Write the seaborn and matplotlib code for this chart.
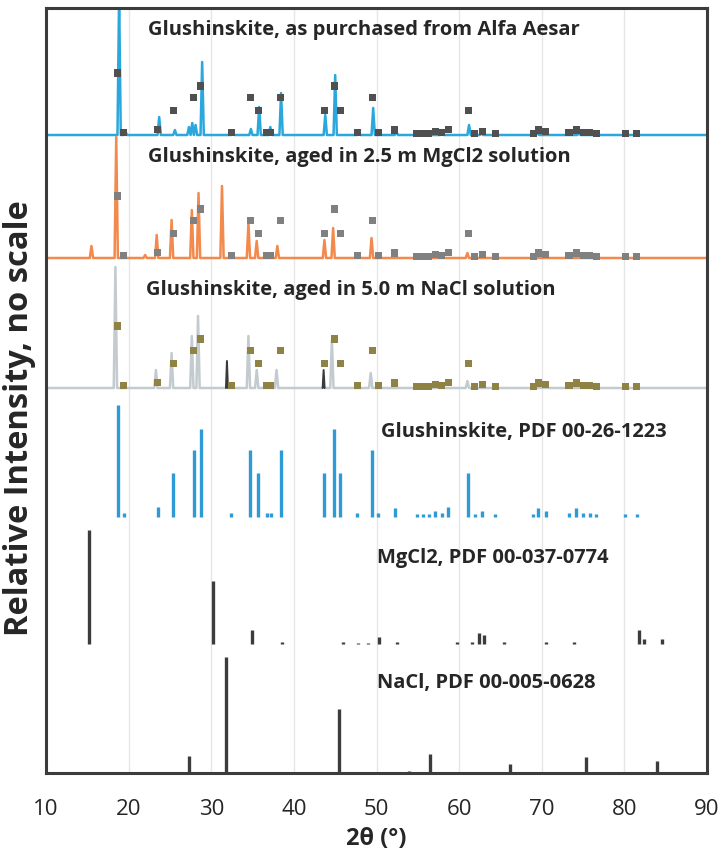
import matplotlib
matplotlib.use("Agg")
import matplotlib.pyplot as plt
import seaborn as sns
import pandas as pd

# --- measured patterns: peak position (2theta, deg) and height (a.u.) ---
purchased_pos = [18.85, 19.6, 23.7, 25.6, 27.3, 27.7, 28.1, 28.9, 32.6, 34.8, 35.8,
                 37.15, 38.45, 43.8, 45.0, 47.9, 49.6, 52.4, 57.9, 61.2, 62.7, 69.5, 74.5]
purchased_int = [140, 4, 18, 5, 8, 12, 10, 73, 3, 6, 28,
                 8, 42, 20, 60, 2, 27, 3, 2, 10, 2, 2, 2]

mgcl2_aged_pos = [15.5, 18.5, 22.0, 23.4, 25.2, 27.65, 28.46, 31.3, 34.5, 35.5,
                  38.0, 43.7, 44.75, 49.4, 61.0]
mgcl2_aged_int = [12, 121, 3, 23, 38, 48, 65, 72, 35, 17,
                  12, 18, 30, 20, 5]

nacl_aged_pos = [18.4, 23.3, 25.2, 27.65, 28.4, 34.5, 35.5, 37.9, 44.6, 49.3, 61.0]
nacl_aged_int = [121, 18, 35, 52, 72, 52, 18, 18, 48, 15, 7]
# darker traces inside the NaCl-aged pattern
nacl_aged_dark_pos = [31.9, 43.6]
nacl_aged_dark_int = [27, 18]

# --- reference patterns (relative intensity, %) ---
glush_pos = [18.7, 19.4, 23.5, 25.4, 27.9, 28.7, 32.4, 34.7, 35.7, 36.7, 37.2, 38.4,
             43.7, 44.9, 45.6, 47.7, 49.5, 50.2, 52.2, 54.9, 55.6, 56.3, 57.1, 57.9,
             58.7, 61.1, 61.9, 62.8, 64.4, 69.0, 69.6, 70.5, 73.3, 74.2, 75.0, 75.8,
             76.6, 80.1, 81.5]
glush_int = [100, 4, 9, 39, 60, 79, 4, 60, 39, 4, 4, 60,
             39, 79, 39, 4, 60, 4, 8, 3, 3, 3, 5, 4,
             9, 39, 3, 5, 3, 3, 8, 5, 4, 8, 4, 4,
             3, 3, 3]

mgcl2_pos = [15.25, 30.2, 34.9, 38.6, 46.0, 47.8, 49.0, 50.3, 52.5, 59.8, 61.6,
             62.4, 63.0, 65.4, 70.5, 73.9, 81.8, 82.4, 84.6]
mgcl2_int = [100, 55, 12, 2, 2, 1, 1, 6, 2, 2, 2,
             10, 8, 2, 2, 2, 12, 4, 4]

nacl_pos = [27.3, 31.75, 45.45, 53.9, 56.5, 66.2, 75.3, 84.0]
nacl_int = [15, 100, 55, 2, 16, 8, 14, 10]

labels = [
    "Glushinskite, as purchased from Alfa Aesar",
    "Glushinskite, aged in 2.5 m MgCl2 solution",
    "Glushinskite, aged in 5.0 m NaCl solution",
    "Glushinskite, PDF 00-26-1223",
    "MgCl2, PDF 00-037-0774",
    "NaCl, PDF 00-005-0628",
]
x_ticks = [10, 20, 30, 40, 50, 60, 70, 80, 90]

# layout (y units ~ pixels above the bottom axis)
baselines = [638, 515, 385, 256, 129, 0]
stick_scale = [1.12, 1.14, 1.16]      # glushinskite, MgCl2, NaCl sticks
marker_scale = 0.62
label_xy = [(22.4, 743), (22.4, 616), (22.1, 483), (50.5, 341), (50.0, 215), (50.0, 90)]


def profile(pos, hts, base, w=0.2):
    xs, ys = [10.0], [base]
    for p, h in sorted(zip(pos, hts)):
        xs += [p - w, p, p + w]
        ys += [base, base + h, base]
    xs.append(90.0)
    ys.append(base)
    return pd.DataFrame({"two_theta": xs, "y": ys})


sns.set_theme(style="white")
plt.rcParams['font.family'] = ['Open Sans', 'DejaVu Sans']

fig = plt.figure(figsize=(7.24, 8.65), dpi=100)
ax = fig.add_axes([46 / 724, (865 - 773) / 865, 661 / 724, (773 - 8) / 865])

# faint vertical gridlines
for xv in x_ticks[1:-1]:
    ax.axvline(xv, color="#e6e6e6", lw=1, zorder=0)

# measured patterns
sns.lineplot(data=profile(purchased_pos, purchased_int, baselines[0]), x="two_theta", y="y",
             color="#2aa8de", lw=1.8, sort=False, estimator=None, ax=ax)
sns.lineplot(data=profile(mgcl2_aged_pos, mgcl2_aged_int, baselines[1]), x="two_theta", y="y",
             color="#f28a4e", lw=1.8, sort=False, estimator=None, ax=ax)
sns.lineplot(data=profile(nacl_aged_pos, nacl_aged_int, baselines[2]), x="two_theta", y="y",
             color="#c3cbcf", lw=1.8, sort=False, estimator=None, ax=ax)
for p, h in zip(nacl_aged_dark_pos, nacl_aged_dark_int):
    sns.lineplot(data=profile([p], [h], baselines[2], w=0.12).iloc[1:-1],
                 x="two_theta", y="y", color="#3a3a3a", lw=1.4, sort=False,
                 estimator=None, ax=ax)

# glushinskite reference positions marked on each measured pattern
marker_colors = ["#505050", "#808080", "#8f8245"]
for base, mc in zip(baselines[:3], marker_colors):
    mk = pd.DataFrame({"two_theta": glush_pos,
                       "y": [base + i * marker_scale for i in glush_int]})
    sns.scatterplot(data=mk, x="two_theta", y="y", marker="s", s=26, color=mc,
                    edgecolor="none", ax=ax, zorder=3)

# stick patterns
ax.vlines(glush_pos, baselines[3], [baselines[3] + i * stick_scale[0] for i in glush_int],
          color="#2e9ad6", lw=2.4)
ax.vlines(mgcl2_pos, baselines[4], [baselines[4] + i * stick_scale[1] for i in mgcl2_int],
          color="#3c3c3c", lw=2.4)
ax.vlines(nacl_pos, baselines[5], [baselines[5] + i * stick_scale[2] for i in nacl_int],
          color="#3c3c3c", lw=2.4)

for (tx, ty), lab in zip(label_xy, labels):
    ax.text(tx, ty, lab, fontsize=14.5, fontweight="bold", color="#262626",
            ha="left", va="center")

ax.set_xlim(10, 90)
ax.set_ylim(0, 765)
ax.set_xticks(x_ticks)
ax.set_xticklabels([str(t) for t in x_ticks], fontsize=16, color="#262626")
ax.set_yticks([])
ax.tick_params(axis="x", length=0, pad=19)
ax.set_xlabel("2θ (°)", fontsize=17, fontweight="bold", color="#262626", labelpad=5)
ax.set_ylabel("")
for sp in ax.spines.values():
    sp.set_visible(True)
    sp.set_color("#3c3c3c")
    sp.set_linewidth(2.2)

fig.text(0.027, (865 - 418) / 865, "Relative Intensity, no scale", rotation=90,
         fontsize=23.5, fontweight="bold", color="#262626", ha="center", va="center")

fig.savefig("out.png", dpi=100)
